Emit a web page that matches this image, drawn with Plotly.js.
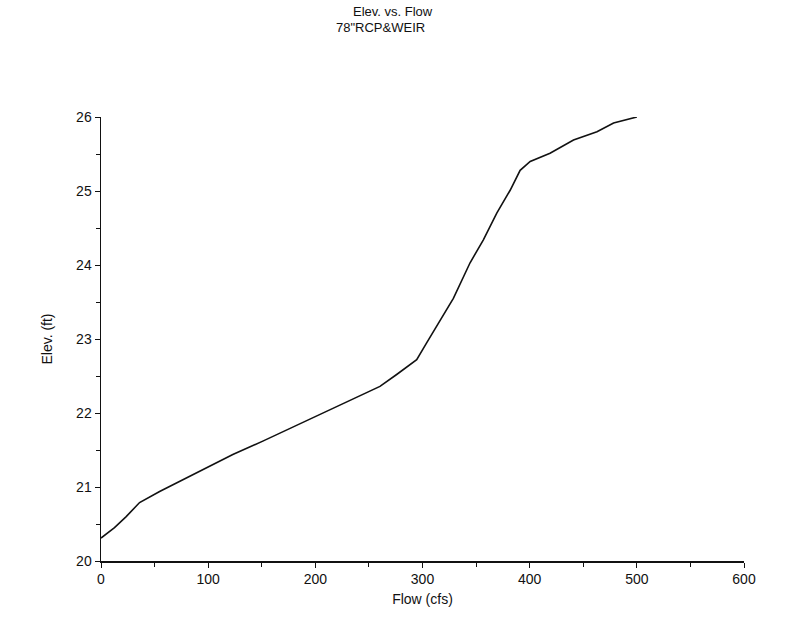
<!DOCTYPE html>
<html>
<head>
<meta charset="utf-8">
<script src="https://cdn.plot.ly/plotly-3.0.1.min.js"></script>
<style>
  html, body { margin: 0; padding: 0; background: #fff; }
  #chart { width: 796px; height: 627px; }
</style>
</head>
<body>
<div id="chart"></div>
<script>
// Stage-discharge rating for the 78" RCP with weir
const flowCfs = [0, 12.6, 23.5, 36, 54.7, 73.4, 98.3, 123, 151, 174.6, 198, 229, 260.3, 275.9, 294.6, 304, 313.3, 328.8, 344.4, 356.8, 369.3, 381.8, 391.1, 400.5, 419, 440.9, 462.8, 478.3, 500];
const elevFt  = [20.31, 20.45, 20.6, 20.79, 20.94, 21.08, 21.26, 21.44, 21.62, 21.78, 21.93, 22.14, 22.36, 22.52, 22.72, 22.95, 23.17, 23.55, 24.03, 24.34, 24.7, 25.01, 25.28, 25.4, 25.51, 25.69, 25.8, 25.92, 26.0];

const xTicks = [0, 100, 200, 300, 400, 500, 600];
const yTicks = [20, 21, 22, 23, 24, 25, 26];
const titleLines = ['Elev. vs. Flow', '78"RCP&WEIR'];

const font = { family: 'Liberation Sans, Arial, sans-serif', size: 14, color: '#111' };
const titleFont = { family: font.family, size: 13, color: '#111' };

const trace = {
  x: flowCfs,
  y: elevFt,
  type: 'scatter',
  mode: 'lines',
  line: { color: '#111', width: 1.6 },
  hoverinfo: 'skip'
};

const layout = {
  width: 796,
  height: 627,
  paper_bgcolor: '#fff',
  plot_bgcolor: '#fff',
  font: font,
  showlegend: false,
  margin: { l: 101, r: 52, t: 117, b: 66 },
  annotations: [
    { text: titleLines[0], xref: 'paper', yref: 'paper', x: 0.454, y: 1.2365,
      xanchor: 'center', yanchor: 'middle', showarrow: false, font: titleFont },
    { text: titleLines[1], xref: 'paper', yref: 'paper', x: 0.434, y: 1.2027,
      xanchor: 'center', yanchor: 'middle', showarrow: false, font: titleFont }
  ],
  xaxis: {
    range: [0, 600],
    tickvals: xTicks,
    ticktext: xTicks.map(String),
    ticks: 'outside',
    ticklen: 5,
    tickcolor: '#111',
    minor: { dtick: 50, tick0: 0, ticks: 'outside', ticklen: 4, tickcolor: '#111', showgrid: false },
    showgrid: false,
    zeroline: false,
    showline: true,
    linecolor: '#111',
    linewidth: 1.5,
    tickfont: font,
    title: { text: 'Flow (cfs)', font: font, standoff: 8 }
  },
  yaxis: {
    range: [20, 26],
    tickvals: yTicks,
    ticktext: yTicks.map(String),
    ticks: 'outside',
    ticklen: 5,
    tickcolor: '#111',
    minor: { dtick: 0.5, tick0: 20, ticks: 'outside', ticklen: 4, tickcolor: '#111', showgrid: false },
    showgrid: false,
    zeroline: false,
    showline: true,
    linecolor: '#111',
    linewidth: 1.5,
    tickfont: font,
    title: { text: 'Elev. (ft)', font: font, standoff: 20 }
  }
};

Plotly.newPlot('chart', [trace], layout, { staticPlot: true, displayModeBar: false });
</script>
</body>
</html>
